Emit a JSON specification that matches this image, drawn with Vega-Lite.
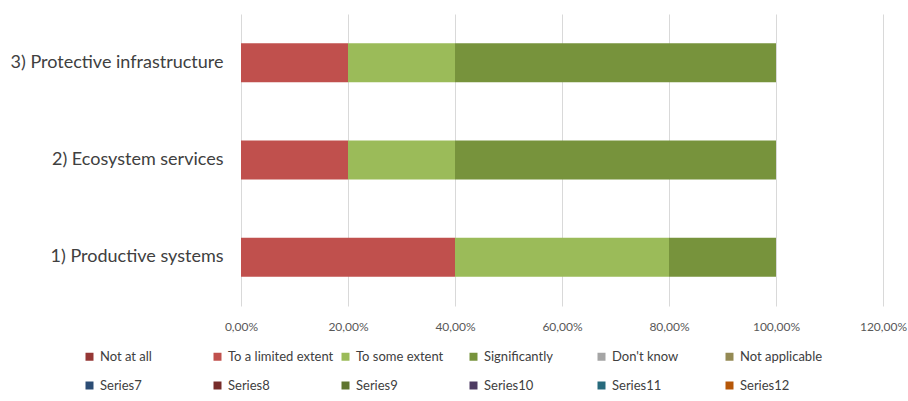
{
  "$schema": "https://vega.github.io/schema/vega-lite/v6.json",
  "width": 642,
  "height": 292,
  "autosize": "none",
  "padding": {"left": 241, "top": 14, "right": 25, "bottom": 95},
  "background": "white",
  "data": {
    "values": [
      {"area": "3) Protective infrastructure", "series": "To a limited extent", "k": 2, "value": 0.2},
      {"area": "3) Protective infrastructure", "series": "To some extent", "k": 3, "value": 0.2},
      {"area": "3) Protective infrastructure", "series": "Significantly", "k": 4, "value": 0.6},
      {"area": "2) Ecosystem services", "series": "To a limited extent", "k": 2, "value": 0.2},
      {"area": "2) Ecosystem services", "series": "To some extent", "k": 3, "value": 0.2},
      {"area": "2) Ecosystem services", "series": "Significantly", "k": 4, "value": 0.6},
      {"area": "1) Productive systems", "series": "To a limited extent", "k": 2, "value": 0.4},
      {"area": "1) Productive systems", "series": "To some extent", "k": 3, "value": 0.4},
      {"area": "1) Productive systems", "series": "Significantly", "k": 4, "value": 0.2}
    ]
  },
  "mark": {"type": "bar"},
  "encoding": {
    "y": {
      "field": "area", "type": "nominal", "sort": "descending",
      "scale": {"paddingInner": 0.6, "paddingOuter": 0.3},
      "axis": {"title": null, "domain": false, "ticks": false, "labelFont": "Lato", "labelFontSize": 18, "labelColor": "#404040", "labelPadding": 18, "labelLimit": 300}
    },
    "x": {
      "field": "value", "type": "quantitative", "stack": "zero",
      "scale": {"domain": [0, 1.2], "nice": false},
      "axis": {"title": null, "values": [0, 0.2, 0.4, 0.6, 0.8, 1.0, 1.2], "domain": false, "ticks": false, "grid": true, "gridColor": "#D9D9D9", "gridWidth": 1, "labelFont": "Lato", "labelFontSize": 12, "labelColor": "#595959", "labelPadding": 15, "labelExpr": "replace(format(datum.value, '.2%'), '.', ',')", "labelFlush": false}
    },
    "order": {"field": "k", "type": "quantitative"},
    "color": {
      "field": "series", "type": "nominal",
      "scale": {
        "domain": ["Not at all", "To a limited extent", "To some extent", "Significantly", "Don't know", "Not applicable", "Series7", "Series8", "Series9", "Series10", "Series11", "Series12"],
        "range": ["#953735", "#C0504D", "#9BBB59", "#77933C", "#A5A5A5", "#948A54", "#2C4D75", "#772C2A", "#5F7530", "#4D3B62", "#276A7C", "#B65708"]
      },
      "legend": {
        "title": null, "orient": "none", "legendX": -158, "legendY": 336, "direction": "horizontal", "columns": 6, "gridAlign": "all",
        "symbolType": "square", "symbolSize": 64, "symbolStrokeWidth": 0, "symbolOpacity": 1,
        "labelFont": "Lato", "labelFontSize": 13, "labelColor": "#404040", "labelOffset": 4, "labelLimit": 200,
        "columnPadding": 5, "rowPadding": 15
      }
    }
  },
  "config": {"view": {"stroke": null}}
}
